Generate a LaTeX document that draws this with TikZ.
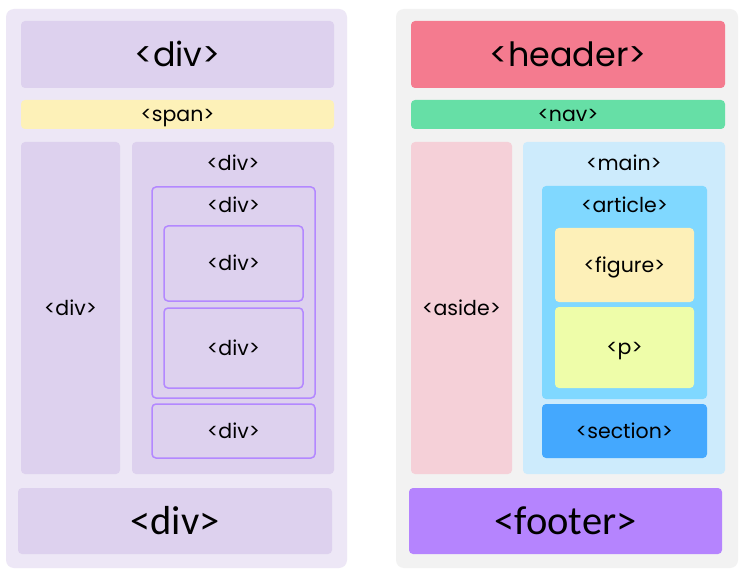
\documentclass[tikz,border=0pt]{standalone}
\usepackage{fontspec}
\setmainfont{Poppins}
\newfontfamily\condfont{Carlito}
\definecolor{leftbg}{HTML}{EDE7F6}
\definecolor{divfill}{HTML}{DDD1EE}
\definecolor{spanfill}{HTML}{FDF1B8}
\definecolor{divline}{HTML}{B388FF}
\definecolor{rightbg}{HTML}{F2F2F2}
\definecolor{headerfill}{HTML}{F47B8F}
\definecolor{navfill}{HTML}{66DFA6}
\definecolor{asidefill}{HTML}{F5D0D8}
\definecolor{mainfill}{HTML}{CDEBFC}
\definecolor{articlefill}{HTML}{80D8FF}
\definecolor{figurefill}{HTML}{FDF0B8}
\definecolor{pfill}{HTML}{EEFDA9}
\definecolor{sectionfill}{HTML}{44A8FE}
\definecolor{footerfill}{HTML}{B584FE}
\tikzset{
  panel/.style={rectangle, rounded corners=8pt, inner sep=0pt},
  box/.style={rectangle, rounded corners=4pt, inner sep=0pt, text=black},
  outl/.style={box, draw=divline, line width=1.5pt},
  big/.style={font=\fontsize{33.4}{33.4}\selectfont, text height=24pt, text depth=0pt},
  mid/.style={font=\fontsize{20.5}{20.5}\selectfont, text height=14.5pt, text depth=0pt},
  cond/.style={font=\condfont\fontsize{40.5}{40.5}\selectfont},
  lbl/.style={inner sep=0pt, text=black}
}
\begin{document}
\begin{tikzpicture}[x=1pt,y=-1pt]
\useasboundingbox (0,0) rectangle (745,575);
\fill[white] (0,0) rectangle (745,575);
% left panel
\node[panel, fill=leftbg, minimum width=341pt, minimum height=559pt] (lpanel) at (176.5,288.5) {};
\node[box, fill=divfill, big, minimum width=313pt, minimum height=67pt] (ltop) at (177.5,54.5) {<div>};
\node[box, fill=spanfill, mid, minimum width=313pt, minimum height=29pt] (lspan) at (177.5,114.5) {<span>};
\node[box, fill=divfill, mid, minimum width=99pt, minimum height=332pt] (lcol) at (70.5,308) {<div>};
\node[box, fill=divfill, minimum width=202pt, minimum height=332pt] (lright) at (233,308) {};
\node[lbl, mid] (lrightlbl) at (233,163) {<div>};
\node[outl, minimum width=163pt, minimum height=211pt] (linner) at (233.5,292.5) {};
\node[lbl, mid] (linnerlbl) at (233.5,205) {<div>};
\node[outl, mid, minimum width=139pt, minimum height=75pt] (ldiva) at (233.5,263.5) {<div>};
\node[outl, mid, minimum width=139pt, minimum height=80pt] (ldivb) at (233.5,348) {<div>};
\node[outl, mid, minimum width=163pt, minimum height=54pt] (ldivc) at (233.5,431) {<div>};
\node[box, fill=divfill, cond, minimum width=314pt, minimum height=66pt] (lbottom) at (175,521) {<div>};
% right panel
\node[panel, fill=rightbg, minimum width=342pt, minimum height=559pt] (rpanel) at (567,288.5) {};
\node[box, fill=headerfill, big, minimum width=314pt, minimum height=67pt] (header) at (568,54.5) {<header>};
\node[box, fill=navfill, mid, minimum width=314pt, minimum height=29pt] (nav) at (568,114.5) {<nav>};
\node[box, fill=asidefill, mid, minimum width=101pt, minimum height=332pt] (aside) at (461.5,308) {<aside>};
\node[box, fill=mainfill, minimum width=202pt, minimum height=332pt] (main) at (624,308) {};
\node[lbl, mid] (mainlbl) at (624,163) {<main>};
\node[box, fill=articlefill, minimum width=165pt, minimum height=213pt] (article) at (624.5,292.5) {};
\node[lbl, mid] (articlelbl) at (624.5,205) {<article>};
\node[box, fill=figurefill, mid, minimum width=139pt, minimum height=74pt] (figure) at (624.5,265) {<figure>};
\node[box, fill=pfill, mid, minimum width=139pt, minimum height=81pt] (para) at (624.5,347.5) {<p>};
\node[box, fill=sectionfill, mid, minimum width=165pt, minimum height=54pt] (section) at (624.5,431) {<section>};
\node[box, fill=footerfill, cond, minimum width=313pt, minimum height=66pt] (footer) at (565.5,521) {<footer>};
\end{tikzpicture}
\end{document}
